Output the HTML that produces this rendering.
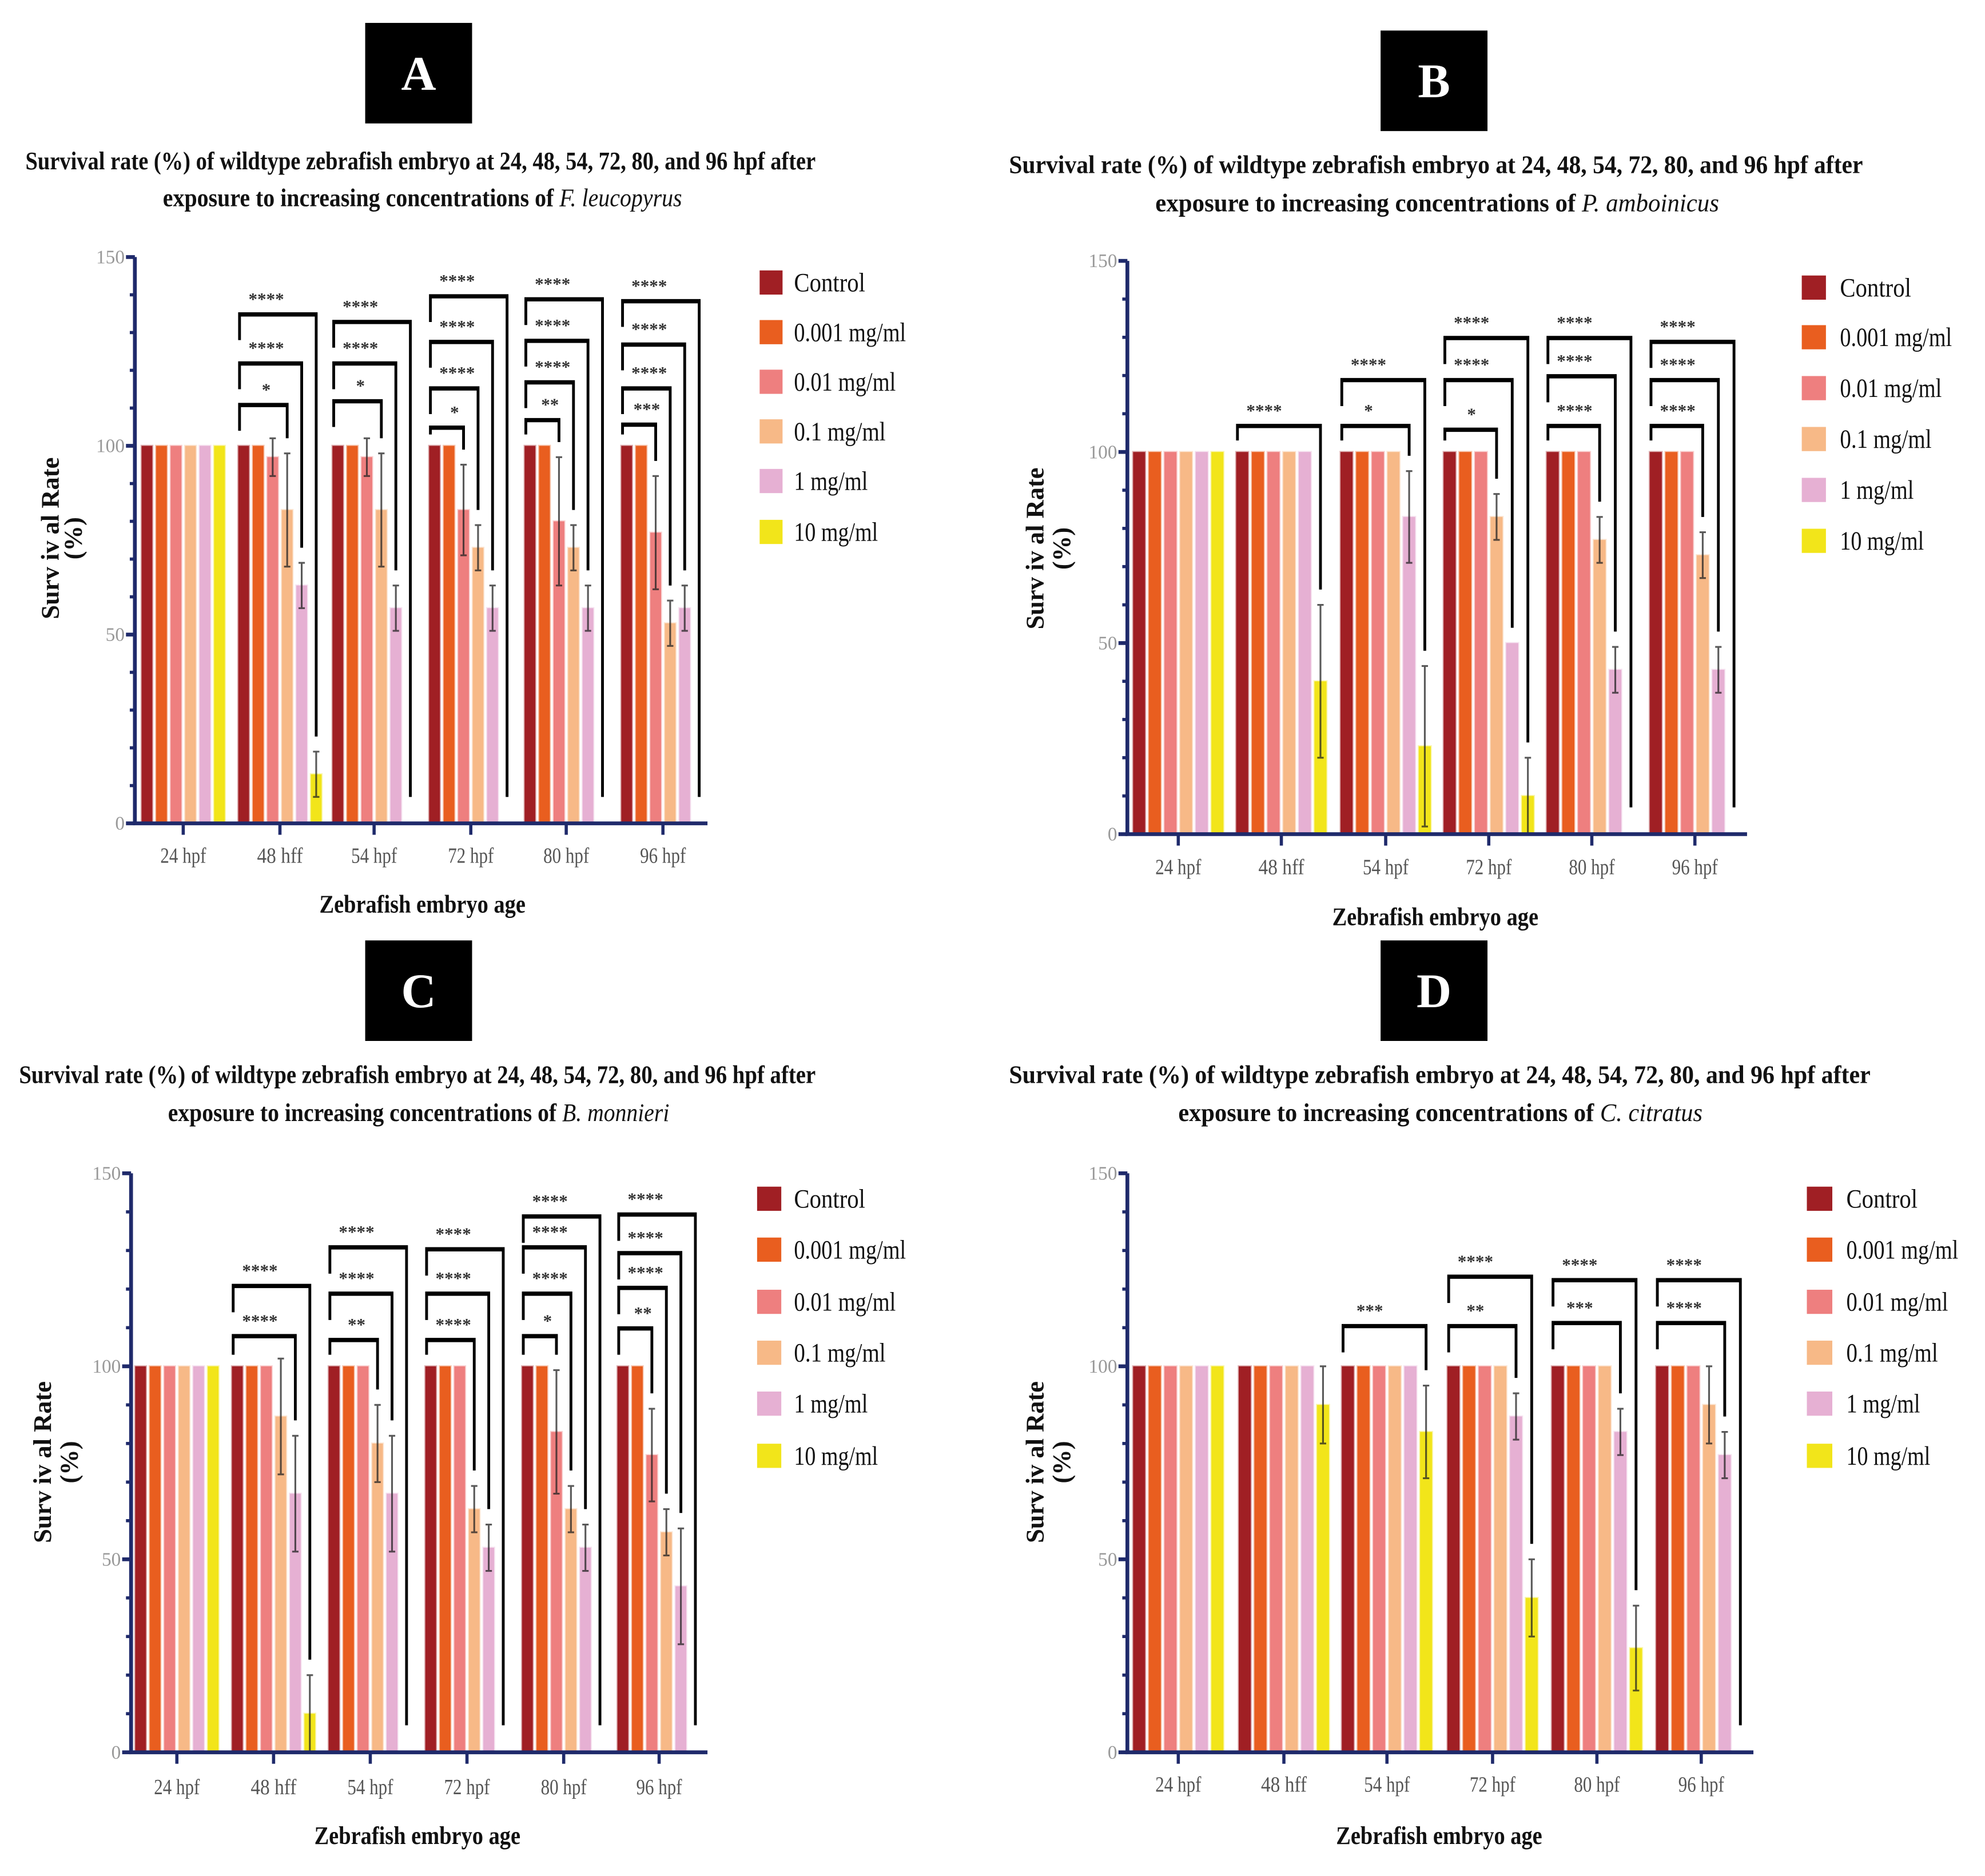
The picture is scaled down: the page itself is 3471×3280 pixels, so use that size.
<!DOCTYPE html>
<html><head><meta charset="utf-8">
<style>
html,body{margin:0;padding:0;background:#fff;}
svg{display:block;}
text{font-family:"Liberation Serif",serif;}
</style></head>
<body>
<svg id="fig" width="3471" height="3280" viewBox="0 0 1560 1474.2" preserveAspectRatio="none" xmlns="http://www.w3.org/2000/svg"></svg>
<script>
// ---- shared data ----
const groups = ["24 hpf","48 hff","54 hpf","72 hpf","80 hpf","96 hpf"];
const series = ["Control","0.001 mg/ml","0.01 mg/ml","0.1 mg/ml","1 mg/ml","10 mg/ml"];
const yTicks = [0,50,100,150];

// Panel A values [group][series]
const aValues = [[100,100,100,100,100,100],[100,100,97,83,63,13],[100,100,97,83,57,0],[100,100,83,73,57,0],[100,100,80,73,57,0],[100,100,77,53,57,0]];
const aErrors = [[0,0,0,0,0,0],[0,0,5,15,6,6],[0,0,5,15,6,0],[0,0,12,6,6,0],[0,0,17,6,6,0],[0,0,15,6,6,0]];
const aBrGroup = [1,1,1,2,2,2,3,3,3,3,4,4,4,4,5,5,5,5];
const aBrTarget = [3,4,5,3,4,5,2,3,4,5,2,3,4,5,2,3,4,5];
const aBrLevel = [111,122,135,112,122,133,105,115.4,127.7,139.8,107,117,128,139,105.8,115.4,127,138.5];
const aBrLabel = ["*","****","****","*","****","****","*","****","****","****","**","****","****","****","***","****","****","****"];

// Panel B
const bValues = [[100,100,100,100,100,100],[100,100,100,100,100,40],[100,100,100,100,83,23],[100,100,100,83,50,10],[100,100,100,77,43,0],[100,100,100,73,43,0]];
const bErrors = [[0,0,0,0,0,0],[0,0,0,0,0,20],[0,0,0,0,12,21],[0,0,0,6,0,10],[0,0,0,6,6,0],[0,0,0,6,6,0]];
const bBrGroup = [1,2,2,3,3,3,4,4,4,5,5,5];
const bBrTarget = [5,4,5,3,4,5,3,4,5,3,4,5];
const bBrLevel = [107,107,119,106,119,130,107,120,130,107,119,129];
const bBrLabel = ["****","*","****","*","****","****","****","****","****","****","****","****"];

// Panel C
const cValues = [[100,100,100,100,100,100],[100,100,100,87,67,10],[100,100,100,80,67,0],[100,100,100,63,53,0],[100,100,83,63,53,0],[100,100,77,57,43,0]];
const cErrors = [[0,0,0,0,0,0],[0,0,0,15,15,10],[0,0,0,10,15,0],[0,0,0,6,6,0],[0,0,16,6,6,0],[0,0,12,6,15,0]];
const cBrGroup = [1,1,2,2,2,3,3,3,4,4,4,4,5,5,5,5];
const cBrTarget = [4,5,3,4,5,3,4,5,2,3,4,5,2,3,4,5];
const cBrLevel = [108,121,107,119,131,107,119,130.5,108,119,131,139,110,120.5,129.5,139.5];
const cBrLabel = ["****","****","**","****","****","****","****","****","*","****","****","****","**","****","****","****"];

// Panel D
const dValues = [[100,100,100,100,100,100],[100,100,100,100,100,90],[100,100,100,100,100,83],[100,100,100,100,87,40],[100,100,100,100,83,27],[100,100,100,90,77,0]];
const dErrors = [[0,0,0,0,0,0],[0,0,0,0,0,10],[0,0,0,0,0,12],[0,0,0,0,6,10],[0,0,0,0,6,11],[0,0,0,10,6,0]];
const dBrGroup = [2,3,3,4,4,5,5];
const dBrTarget = [5,4,5,4,5,4,5];
const dBrLevel = [110.6,110.6,123.4,111.4,122.5,111.4,122.5];
const dBrLabel = ["***","**","****","***","****","****","****"];

const colors = ["#a01f24","#e95e1f","#ee7f7f","#f7b987","#e6b0d3","#f2e51a"];
const legendW = [56,88,80,72,58,66];
const NS = "http://www.w3.org/2000/svg";
const svg = document.getElementById("fig");

function mk(tag, attrs, parent, txt){
  const e = document.createElementNS(NS, tag);
  for (const k in attrs) e.setAttribute(k, attrs[k]);
  if (txt !== undefined) e.textContent = txt;
  (parent || svg).appendChild(e);
  return e;
}

function panel(cfg){
  const g = mk("g", {});
  
  
  const ys = v => cfg.y0 - (cfg.y0 - cfg.y150) * v / 150;
  const box = mk("rect", {x:cfg.box[0], y:cfg.box[1], width:cfg.box[2], height:cfg.box[3], fill:"#000"}, g);
  
  
  const bl = mk("text", {x:cfg.box[0]+cfg.box[2]/2, y:cfg.box[1]+cfg.box[3]/2+13, "text-anchor":"middle", "font-size":38, "font-weight":"bold", fill:"#fff"}, g, cfg.id);
  
  
  const t1 = mk("text", {x:cfg.t1[0], y:cfg.t1[2], textLength:cfg.t1[1]-cfg.t1[0], lengthAdjust:"spacingAndGlyphs", "font-size":20, "font-weight":"bold", fill:"#111"}, g, "Survival rate (%) of wildtype zebrafish embryo at 24, 48, 54, 72, 80, and 96 hpf after");
  
  
  const t2 = mk("text", {x:cfg.t2[0], y:cfg.t2[2], textLength:cfg.t2[1]-cfg.t2[0], lengthAdjust:"spacingAndGlyphs", "font-size":20, "font-weight":"bold", fill:"#111"}, g);
  
  
  mk("tspan", {}, t2, "exposure to increasing concentrations of ");
  mk("tspan", {"font-style":"italic", "font-weight":"normal"}, t2, cfg.species);

  const gw = cfg.step;
  for (let i = 0; i < groups.length; i++){
    for (let s = 0; s < series.length; s++){
      const v = cfg.values[i][s];
      const cx = cfg.centers[i] + (s - 2.5) * gw;
      if (v > 0){
        const r = mk("rect", {x:cx - cfg.bw/2, y:ys(v), width:cfg.bw, height:cfg.y0 - ys(v), fill:colors[s], stroke:colors[s], "stroke-opacity":0.35, "stroke-width":1.6}, g);
        
        
      }
      const e = cfg.errors[i][s];
      if (e > 0){
        const el = mk("path", {d:`M${cx},${ys(v+e)}V${ys(Math.max(v-e,0))}M${cx-2.5},${ys(v+e)}h5M${cx-2.5},${ys(Math.max(v-e,0))}h5`, stroke:"#222", "stroke-opacity":0.75, "stroke-width":1.4, fill:"none"}, g);
        
        
      }
    }
  }
  for (let k = 0; k < cfg.brG.length; k++){
    const gi = cfg.brG[k], tg = cfg.brT[k], lv = cfg.brL[k];
    const xl = cfg.centers[gi] - 2.5*gw - cfg.bw/2 + 1;
    const xr = cfg.centers[gi] + (tg - 2.5)*gw;
    const tv = cfg.values[gi][tg], te = cfg.errors[gi][tg];
    const endV = tv > 0 ? tv + te + 4 : 7;
    const leftV = Math.max(lv - 7, 103);
    const y = ys(lv);
    const h = mk("path", {d:`M${xl},${ys(leftV)}V${y}H${xr}V${ys(endV)}`, stroke:"#000", "stroke-width":2.2, fill:"none"}, g);
    
    
    mk("line", {x1:xl, x2:xr, y1:y+1, y2:y+1, stroke:"#000", "stroke-width":2.5}, g);
    const lt = mk("text", {x:(xl + Math.min(xr, xl+30))/2 + 6, y:y - 7, "text-anchor":"middle", "font-size":14, "font-weight":"bold", fill:"#333"}, g, cfg.brLab[k]);
    
    
  }
  const ax = mk("path", {d:`M${cfg.ax},${cfg.y150}V${cfg.y0}H${cfg.axEnd}`, stroke:"#1f2a6b", "stroke-width":3, fill:"none"}, g);
  
  
  for (let v = 0; v <= 150; v += 10){
    const major = v % 50 === 0;
    mk("line", {x1:cfg.ax - (major?7:4), x2:cfg.ax, y1:ys(v), y2:ys(v), stroke:"#1f2a6b", "stroke-width":major?3:2.5}, g);
  }
  for (const v of yTicks){
    const tl = mk("text", {x:cfg.ax - 8, y:ys(v)+5, "text-anchor":"end", "font-size":15, fill:"#999"}, g, String(v));
    
    
  }
  for (let i = 0; i < groups.length; i++){
    mk("line", {x1:cfg.centers[i], x2:cfg.centers[i], y1:cfg.y0, y2:cfg.y0+9, stroke:"#1f2a6b", "stroke-width":2.5}, g);
    const xl = mk("text", {x:cfg.centers[i], y:cfg.xlab+6, "text-anchor":"middle", "font-size":17, fill:"#555", textLength:36, lengthAdjust:"spacingAndGlyphs"}, g, groups[i]);
    
    
  }
  const xt = mk("text", {x:cfg.xt[0], y:cfg.xt[1]+7, "text-anchor":"middle", "font-size":20, "font-weight":"bold", fill:"#111", textLength:162, lengthAdjust:"spacingAndGlyphs"}, g, "Zebrafish embryo age");
  
  
  const yt = mk("text", {transform:`translate(${cfg.yt[0]+7},${cfg.yt[2]}) rotate(-90)`, "text-anchor":"middle", "font-size":20, "font-weight":"bold", fill:"#111"}, g, "Surv iv al Rate");
  
  
  mk("text", {transform:`translate(${cfg.yt[1]+7},${cfg.yt[2]}) rotate(-90)`, "text-anchor":"middle", "font-size":20, "font-weight":"bold", fill:"#111"}, g, "(%)");
  for (let s = 0; s < series.length; s++){
    const le = mk("g", {}, g);
    
    
    mk("rect", {x:cfg.lg[0], y:cfg.lgY[s]-9.5, width:cfg.lg[1]-cfg.lg[0], height:19, fill:colors[s]}, le);
    mk("text", {x:cfg.lg[2], y:cfg.lgY[s]+7, "font-size":21, fill:"#111", textLength:legendW[s], lengthAdjust:"spacingAndGlyphs"}, le, series[s]);
  }
}

panel({id:"A", species:"F. leucopyrus", values:aValues, errors:aErrors, brG:aBrGroup, brT:aBrTarget, brL:aBrLevel, brLab:aBrLabel,
  box:[287,18,84,79], t1:[20,641,133], t2:[128,536,162], ax:106, axEnd:556, y0:647, y150:202,
  centers:[144,220,294,370,445,521], step:11.4, bw:8.5, xlab:672, xt:[332,710], yt:[39,57,423],
  lg:[597,615,624], lgY:[222,261,300,339,378,418]});
panel({id:"B", species:"P. amboinicus", values:bValues, errors:bErrors, brG:bBrGroup, brT:bBrTarget, brL:bBrLevel, brLab:bBrLabel,
  box:[1085,24,84,79], t1:[793,1464,136], t2:[908,1351,166], ax:886, axEnd:1373, y0:655.5, y150:205,
  centers:[926,1007,1089,1170,1251,1332], step:12.3, bw:9.5, xlab:681, xt:[1128,720], yt:[813,834,431],
  lg:[1416,1435,1446], lgY:[226,265,305,345,385,425]});
panel({id:"C", species:"B. monnieri", values:cValues, errors:cErrors, brG:cBrGroup, brT:cBrTarget, brL:cBrLevel, brLab:cBrLabel,
  box:[287,739,84,79], t1:[15,641,851], t2:[132,526,881], ax:103, axEnd:556, y0:1377, y150:922,
  centers:[139,215,291,367,443,518], step:11.4, bw:8.5, xlab:1404, xt:[328,1442], yt:[33,54,1149],
  lg:[595,614,624], lgY:[942,982,1023,1063,1103,1144]});
panel({id:"D", species:"C. citratus", values:dValues, errors:dErrors, brG:dBrGroup, brT:dBrTarget, brL:dBrLevel, brLab:dBrLabel,
  box:[1085,739,84,79], t1:[793,1470,851], t2:[926,1338,881], ax:886, axEnd:1378, y0:1377, y150:922,
  centers:[926,1009,1090,1173,1255,1337], step:12.3, bw:9.5, xlab:1402, xt:[1131,1442], yt:[813,834,1149],
  lg:[1420,1440,1451], lgY:[942,982,1023,1063,1103,1144]});
</script>
</body></html>
